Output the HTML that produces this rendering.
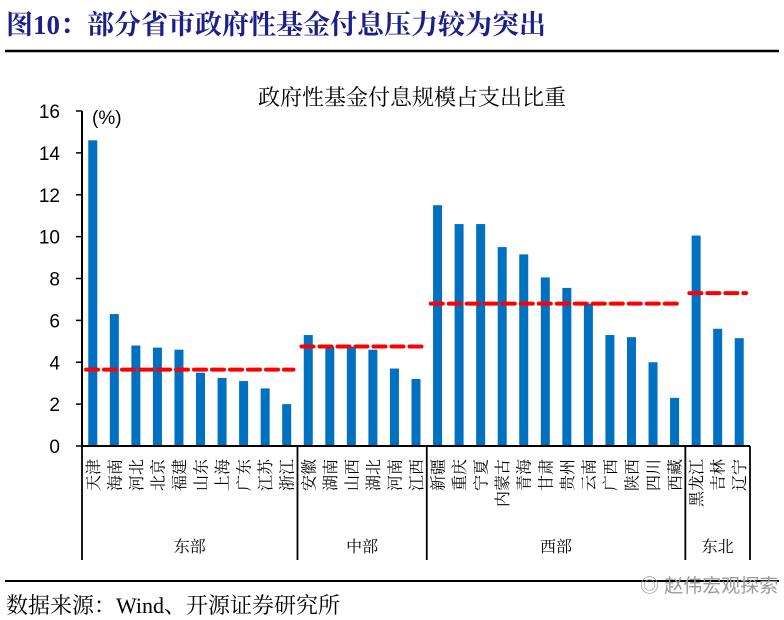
<!DOCTYPE html>
<html><head><meta charset="utf-8">
<style>
html,body{margin:0;padding:0;background:#fff;width:784px;height:620px;overflow:hidden}
svg{display:block}
</style></head>
<body>
<svg id="chart" width="784" height="620" xmlns="http://www.w3.org/2000/svg">
  <text x="6" y="34" font-family="'Liberation Serif','Noto Serif CJK SC',serif" font-weight="bold" font-size="27" fill="#1a1f8a">图10：部分省市政府性基金付息压力较为突出</text>
  <line x1="5" y1="51" x2="779" y2="51" stroke="#000" stroke-width="2.5"/>
  <text x="412" y="105" text-anchor="middle" font-family="'Liberation Serif','Noto Serif CJK SC',serif" font-size="22" fill="#000">政府性基金付息规模占支出比重</text>
  <text x="92" y="124" font-family="'Liberation Sans',sans-serif" font-size="19" fill="#000">(%)</text>
  <g id="plot"></g>
  <line x1="5" y1="581" x2="779" y2="581" stroke="#000" stroke-width="2"/>
  <text x="6" y="613" font-family="'Liberation Serif','Noto Serif CJK SC',serif" font-size="22" fill="#000">数据来源：Wind、开源证券研究所</text>
  <text x="640" y="592" font-family="'Liberation Sans','Noto Sans CJK SC',sans-serif" font-size="19" fill="#999">◎ 赵伟宏观探索</text>
</svg>
<script>
const categories=["天津","海南","河北","北京","福建","山东","上海","广东","江苏","浙江","安徽","湖南","山西","湖北","河南","江西","新疆","重庆","宁夏","内蒙古","青海","甘肃","贵州","云南","广西","陕西","四川","西藏","黑龙江","吉林","辽宁"];
const values=[14.6,6.3,4.8,4.7,4.6,3.5,3.25,3.1,2.75,2.0,5.3,4.75,4.75,4.6,3.7,3.2,11.5,10.6,10.6,9.5,9.15,8.05,7.55,6.8,5.3,5.2,4.0,2.3,10.05,5.6,5.15];
const groupNames=["东部","中部","西部","东北"];
const groupSizes=[10,6,12,3];
const groupAverages=[3.65,4.75,6.8,7.3];
const yTicks=[0,2,4,6,8,10,12,14,16];

const NS="http://www.w3.org/2000/svg";
const g=document.getElementById('plot');
const X0=82,X1=750,Y0=446,Y1=111,YMAX=16;
const n=categories.length;
const step=(X1-X0)/n;
const xC=i=>X0+step*(i+0.5);
const yS=v=>Y0-(v/YMAX)*(Y0-Y1);
function mk(tag,attrs){const e=document.createElementNS(NS,tag);for(const k in attrs)e.setAttribute(k,attrs[k]);g.appendChild(e);return e;}

// bars
values.forEach((v,i)=>{
  const r=mk('rect',{x:xC(i)-4.5,y:yS(v),width:9,height:Y0-yS(v),fill:'#0070c0'});
  
  
  const t=mk('text',{transform:`translate(${xC(i)+6},459) rotate(-90)`,'text-anchor':'end','font-family':"'Liberation Serif','Noto Serif CJK SC',serif",'font-size':'16',fill:'#000'});
  t.textContent=categories[i];
  
  
});
// axes
const ya=mk('line',{x1:X0,y1:Y1,x2:X0,y2:Y0,stroke:'#000','stroke-width':2});


const xa=mk('line',{x1:X0,y1:Y0,x2:X1,y2:Y0,stroke:'#000','stroke-width':2});


yTicks.forEach(t=>{
  const l=mk('line',{x1:X0-6,y1:yS(t),x2:X0,y2:yS(t),stroke:'#000','stroke-width':1.5});
  
  
  const tx=mk('text',{x:X0-22,y:yS(t)+7,'text-anchor':'end','font-family':"'Liberation Sans',sans-serif",'font-size':'19',fill:'#000'});
  tx.textContent=t;
  
  
});
// groups
let start=0;
const sep=x=>{const l=mk('line',{x1:x,y1:Y0,x2:x,y2:560,stroke:'#000','stroke-width':1.8});
  
  };
sep(X0);
groupSizes.forEach((sz,k)=>{
  const end=start+sz;
  const xa0=X0+step*start, xa1=X0+step*end;
  sep(xa1);
  const lb=mk('text',{x:(xa0+xa1)/2,y:552,'text-anchor':'middle','font-family':"'Liberation Serif','Noto Serif CJK SC',serif",'font-size':'16',fill:'#000'});
  lb.textContent=groupNames[k];
  
  
  const av=mk('line',{x1:xa0+4,y1:yS(groupAverages[k]),x2:xa1-4,y2:yS(groupAverages[k]),stroke:'#ff0000','stroke-width':4,'stroke-dasharray':'12,6','stroke-linecap':'round'});
  
  
  start=end;
});
</script>
</body></html>
